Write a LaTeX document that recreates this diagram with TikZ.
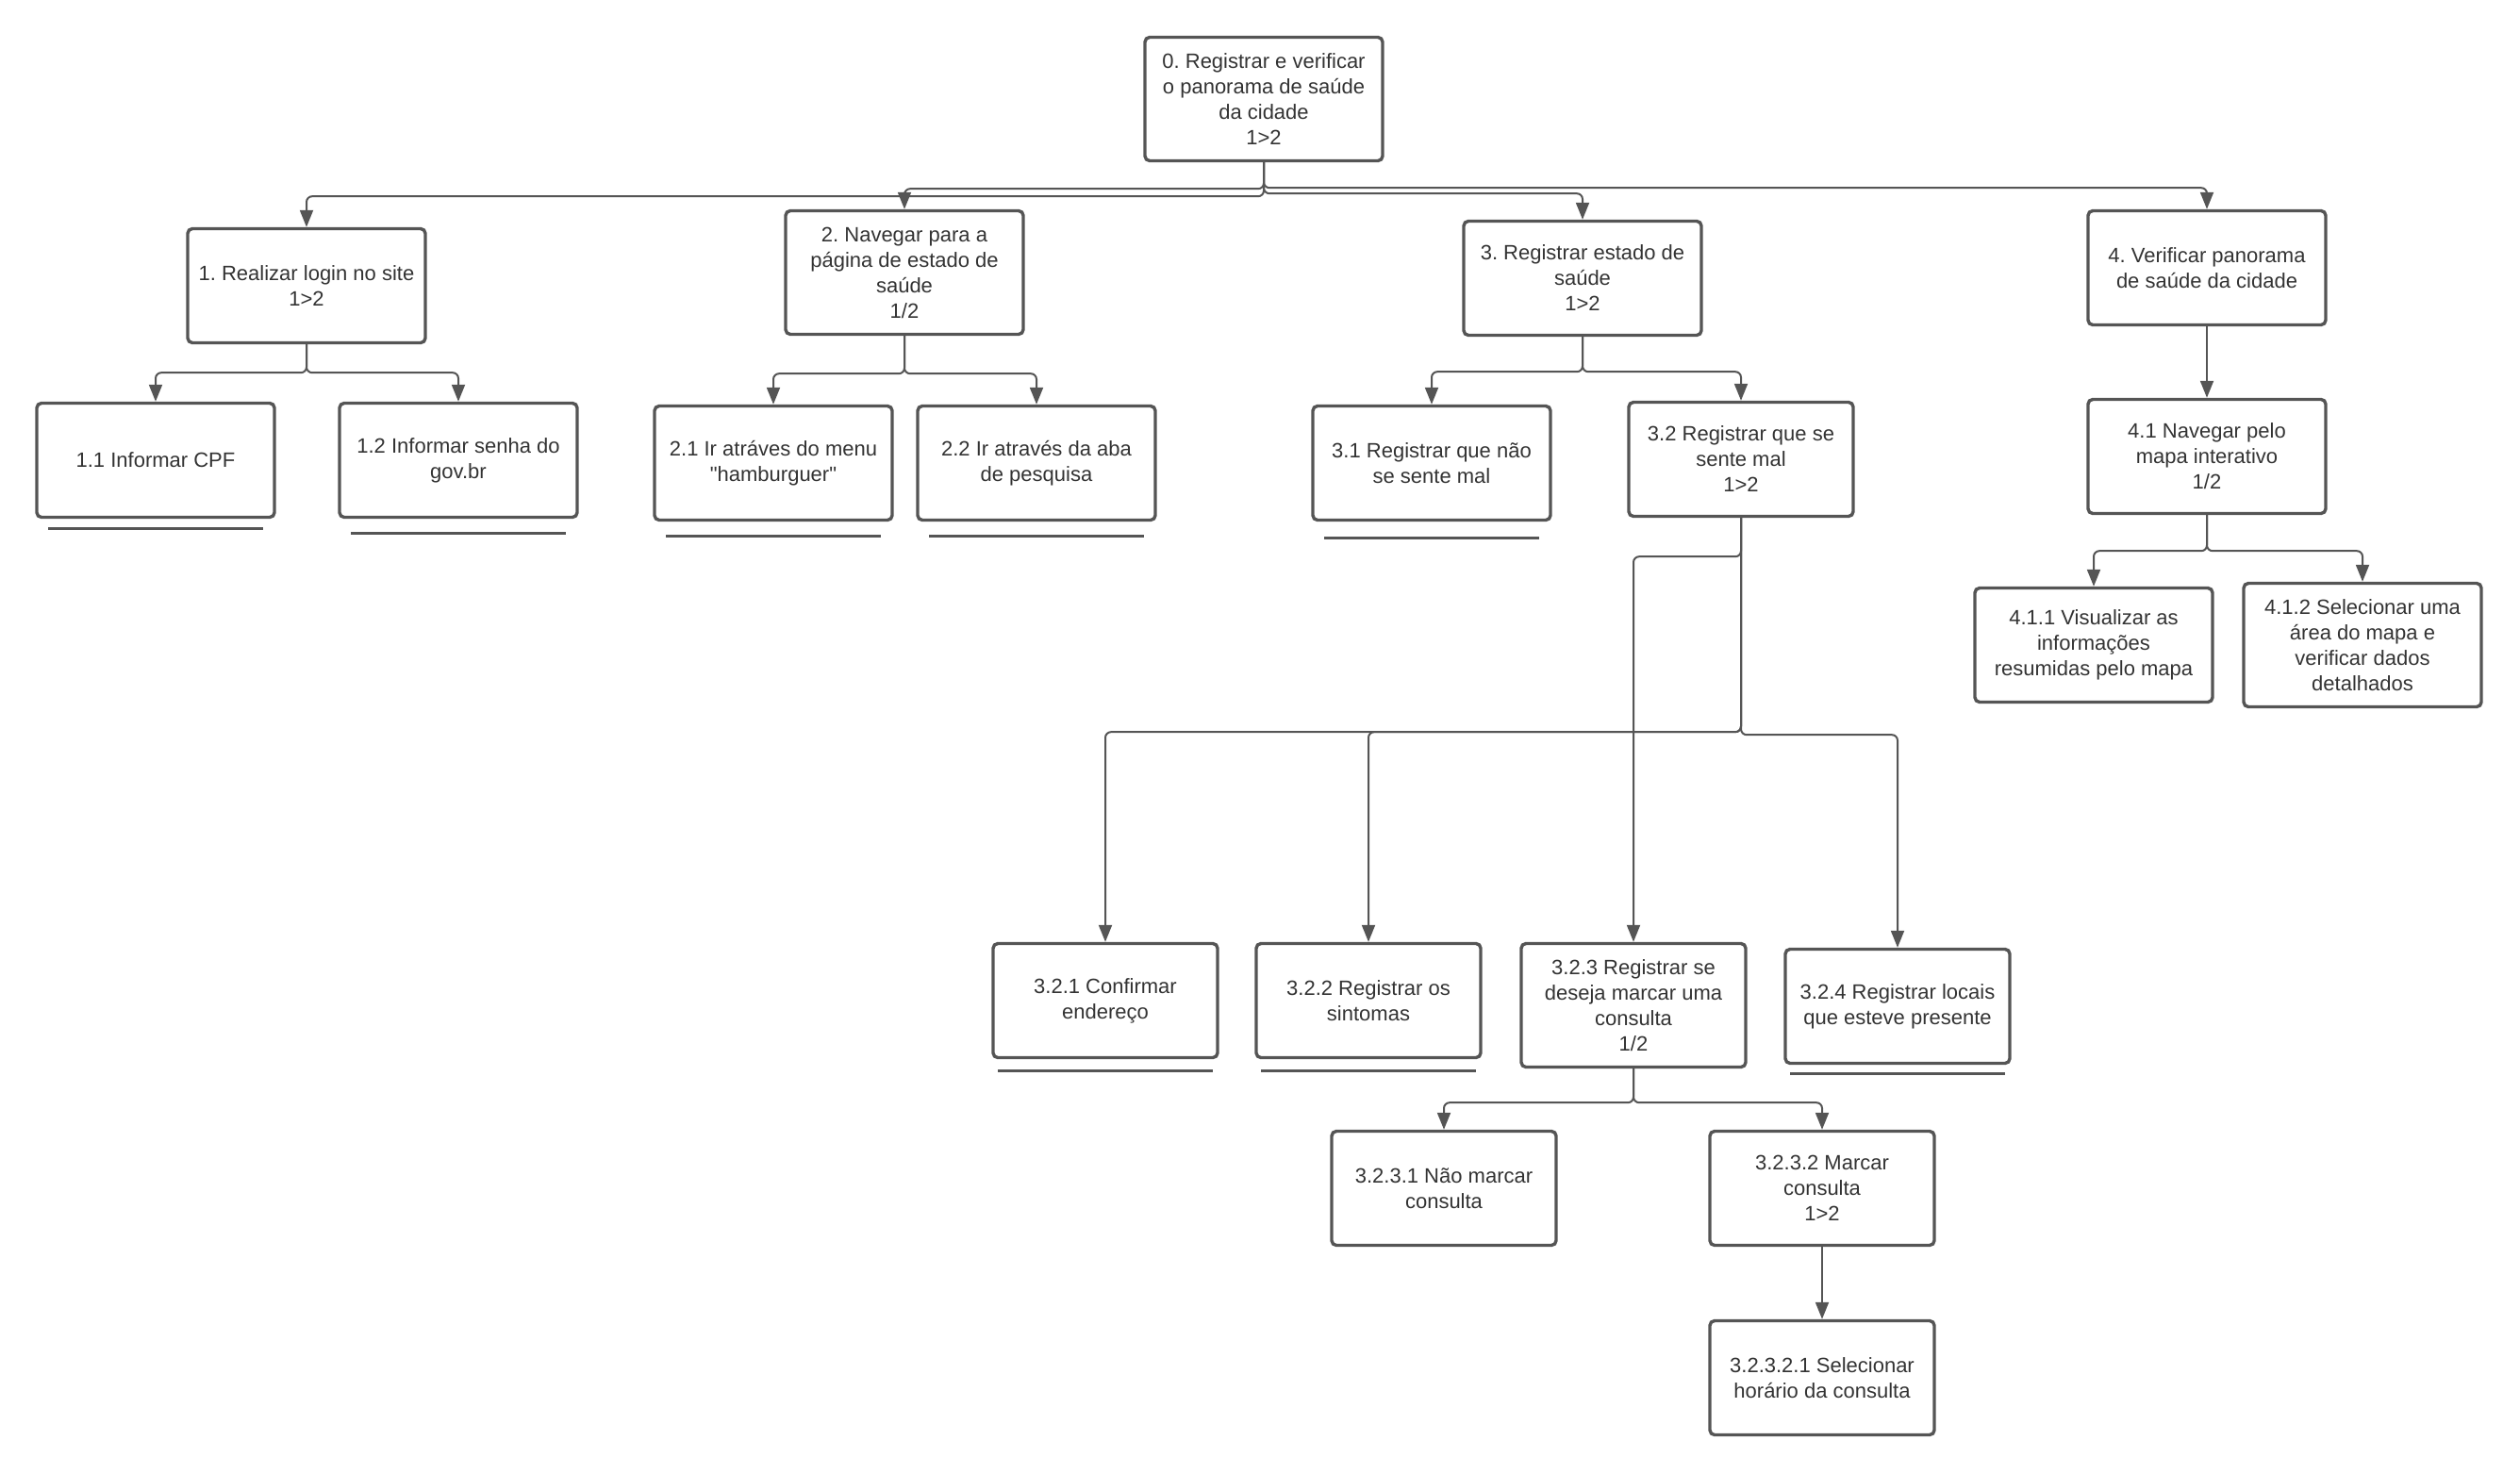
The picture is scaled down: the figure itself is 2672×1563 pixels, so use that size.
\documentclass[tikz,border=0pt]{standalone}
\usepackage{fontspec}
\setmainfont{Liberation Sans}
\usepackage{xcolor}
\usepackage{tikz}
\usetikzlibrary{arrows.meta}
\frenchspacing

\definecolor{linegray}{HTML}{555555}
\definecolor{textgray}{HTML}{333333}

\begin{document}
\begin{tikzpicture}[x=0.5pt,y=-0.5pt,
    every node/.style={draw=linegray,line width=1.7pt,rounded corners=2.5pt,align=center,text=textgray,font=\fontsize{11}{13.5}\selectfont,minimum width=126pt,minimum height=60.5pt,inner sep=2pt},
    narrow/.style={minimum width=119pt},
    tall/.style={minimum height=65.5pt},
    link/.style={draw=linegray,line width=1pt,rounded corners=3pt,-{Triangle[length=9pt,width=7pt]}},
    uline/.style={draw=linegray,line width=1.6pt}]
    \useasboundingbox (0,0) rectangle (2672,1563);

    % top levels
    \node[tall] (n0) at (1340,105) {0. Registrar e verificar\\o panorama de saúde\\da cidade\\1>2};
    \node (n1) at (325,303) {1. Realizar login no site\\1>2};
    \node[tall] (n2) at (959,289) {2. Navegar para a\\página de estado de\\saúde\\1/2};
    \node (n3) at (1678,295) {3. Registrar estado de\\saúde\\1>2};
    \node (n4) at (2340,284) {4. Verificar panorama\\de saúde da cidade};
    \node (n11) at (165,488) {1.1 Informar CPF};
    \node (n12) at (486,488) {1.2 Informar senha do\\gov.br};
    \node (n21) at (820,491) {2.1 Ir atráves do menu\\\textquotedbl hamburguer\textquotedbl};
    \node (n22) at (1099,491) {2.2 Ir através da aba\\de pesquisa};
    \node (n31) at (1518,491) {3.1 Registrar que não\\se sente mal};
    \node[narrow] (n32) at (1846,487) {3.2 Registrar que se\\sente mal\\1>2};
    \node (n41) at (2340,484) {4.1 Navegar pelo\\mapa interativo\\1/2};
    \node (n411) at (2220,684) {4.1.1 Visualizar as\\informações\\resumidas pelo mapa};
    \node[tall] (n412) at (2505,684) {4.1.2 Selecionar uma\\área do mapa e\\verificar dados\\detalhados};
    % below 3.2
    \node[narrow] (n321) at (1172,1061) {3.2.1 Confirmar\\endereço};
    \node[narrow] (n322) at (1451,1061) {3.2.2 Registrar os\\sintomas};
    \node[narrow,tall] (n323) at (1732,1066) {3.2.3 Registrar se\\deseja marcar uma\\consulta\\1/2};
    \node[narrow] (n324) at (2012,1067) {3.2.4 Registrar locais\\que esteve presente};
    \node[narrow] (n3231) at (1531,1260) {3.2.3.1 Não marcar\\consulta};
    \node[narrow] (n3232) at (1932,1260) {3.2.3.2 Marcar\\consulta\\1>2};
    \node[narrow] (n32321) at (1932,1461) {3.2.3.2.1 Selecionar\\horário da consulta};

    % connectors
    \draw[link] (n0.south) -- ++(0,36) -| (n1.north);
    \draw[link] (n0.south) -- ++(0,28) -| (n2.north);
    \draw[link] (n0.south) -- ++(0,33) -| (n3.north);
    \draw[link] (n0.south) -- ++(0,27) -| (n4.north);
    \foreach \c in {n11,n12} \draw[link] (n1.south) -- ++(0,30) -| (\c.north);
    \foreach \c in {n21,n22} \draw[link] (n2.south) -- ++(0,40) -| (\c.north);
    \foreach \c in {n31,n32} \draw[link] (n3.south) -- ++(0,37) -| (\c.north);
    \draw[link] (n4) -- (n41);
    \foreach \c in {n411,n412} \draw[link] (n41.south) -- ++(0,38) -| (\c.north);
    \foreach \c in {n321,n322} \draw[link] (n32.south) -- ++(0,227) -| (\c.north);
    \draw[link] (n32.south) -- ++(0,230) -| (n324.north);
    \draw[link] (n32.south) -- ++(0,41) -| (n323.north);
    \foreach \c in {n3231,n3232} \draw[link] (n323.south) -- ++(0,36) -| (\c.north);
    \draw[link] (n3232) -- (n32321);

    % leaf marks
    \foreach \c/\g in {n11/5,n12/7.5,n21/7.5,n22/7.5,n31/8.5,n321/6,n322/6,n324/4.5}
      \draw[uline] ([xshift=-57pt,yshift=-\g pt]\c.south) -- ([xshift=57pt,yshift=-\g pt]\c.south);
\end{tikzpicture}
\end{document}
